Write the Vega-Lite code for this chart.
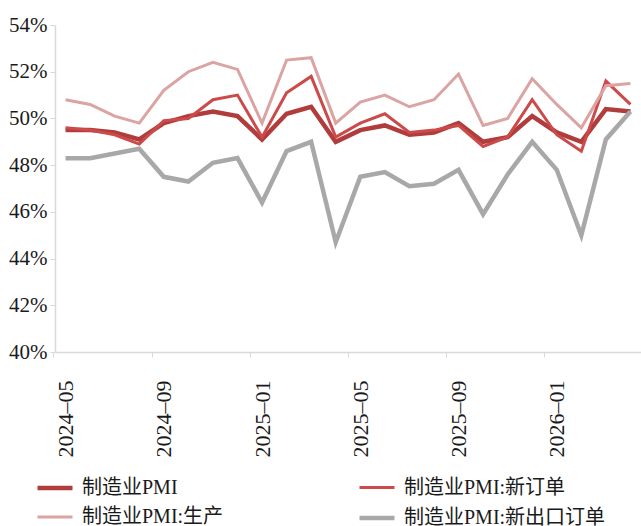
{
  "$schema": "https://vega.github.io/schema/vega-lite/v6.json",
  "width": 586,
  "height": 327,
  "autosize": "none",
  "padding": {"left": 55, "top": 25, "right": 0, "bottom": 174},
  "background": "white",
  "config": {"view": {"stroke": null}, "font": "Liberation Serif"},
  "data": {"values": [
    {"month": "2024-05", "制造业PMI": 49.5, "制造业PMI:新订单": 49.6, "制造业PMI:生产": 50.8, "制造业PMI:新出口订单": 48.3},
    {"month": "2024-06", "制造业PMI": 49.5, "制造业PMI:新订单": 49.5, "制造业PMI:生产": 50.6, "制造业PMI:新出口订单": 48.3},
    {"month": "2024-07", "制造业PMI": 49.4, "制造业PMI:新订单": 49.3, "制造业PMI:生产": 50.1, "制造业PMI:新出口订单": 48.5},
    {"month": "2024-08", "制造业PMI": 49.1, "制造业PMI:新订单": 48.9, "制造业PMI:生产": 49.8, "制造业PMI:新出口订单": 48.7},
    {"month": "2024-09", "制造业PMI": 49.8, "制造业PMI:新订单": 49.9, "制造业PMI:生产": 51.2, "制造业PMI:新出口订单": 47.5},
    {"month": "2024-10", "制造业PMI": 50.1, "制造业PMI:新订单": 50.0, "制造业PMI:生产": 52.0, "制造业PMI:新出口订单": 47.3},
    {"month": "2024-11", "制造业PMI": 50.3, "制造业PMI:新订单": 50.8, "制造业PMI:生产": 52.4, "制造业PMI:新出口订单": 48.1},
    {"month": "2024-12", "制造业PMI": 50.1, "制造业PMI:新订单": 51.0, "制造业PMI:生产": 52.1, "制造业PMI:新出口订单": 48.3},
    {"month": "2025-01", "制造业PMI": 49.1, "制造业PMI:新订单": 49.2, "制造业PMI:生产": 49.8, "制造业PMI:新出口订单": 46.4},
    {"month": "2025-02", "制造业PMI": 50.2, "制造业PMI:新订单": 51.1, "制造业PMI:生产": 52.5, "制造业PMI:新出口订单": 48.6},
    {"month": "2025-03", "制造业PMI": 50.5, "制造业PMI:新订单": 51.8, "制造业PMI:生产": 52.6, "制造业PMI:新出口订单": 49.0},
    {"month": "2025-04", "制造业PMI": 49.0, "制造业PMI:新订单": 49.2, "制造业PMI:生产": 49.8, "制造业PMI:新出口订单": 44.7},
    {"month": "2025-05", "制造业PMI": 49.5, "制造业PMI:新订单": 49.8, "制造业PMI:生产": 50.7, "制造业PMI:新出口订单": 47.5},
    {"month": "2025-06", "制造业PMI": 49.7, "制造业PMI:新订单": 50.2, "制造业PMI:生产": 51.0, "制造业PMI:新出口订单": 47.7},
    {"month": "2025-07", "制造业PMI": 49.3, "制造业PMI:新订单": 49.4, "制造业PMI:生产": 50.5, "制造业PMI:新出口订单": 47.1},
    {"month": "2025-08", "制造业PMI": 49.4, "制造业PMI:新订单": 49.5, "制造业PMI:生产": 50.8, "制造业PMI:新出口订单": 47.2},
    {"month": "2025-09", "制造业PMI": 49.8, "制造业PMI:新订单": 49.7, "制造业PMI:生产": 51.9, "制造业PMI:新出口订单": 47.8},
    {"month": "2025-10", "制造业PMI": 49.0, "制造业PMI:新订单": 48.8, "制造业PMI:生产": 49.7, "制造业PMI:新出口订单": 45.9},
    {"month": "2025-11", "制造业PMI": 49.2, "制造业PMI:新订单": 49.2, "制造业PMI:生产": 50.0, "制造业PMI:新出口订单": 47.6},
    {"month": "2025-12", "制造业PMI": 50.1, "制造业PMI:新订单": 50.8, "制造业PMI:生产": 51.7, "制造业PMI:新出口订单": 49.0},
    {"month": "2026-01", "制造业PMI": 49.4, "制造业PMI:新订单": 49.3, "制造业PMI:生产": 50.6, "制造业PMI:新出口订单": 47.8},
    {"month": "2026-02", "制造业PMI": 49.0, "制造业PMI:新订单": 48.6, "制造业PMI:生产": 49.6, "制造业PMI:新出口订单": 45.0},
    {"month": "2026-03", "制造业PMI": 50.4, "制造业PMI:新订单": 51.6, "制造业PMI:生产": 51.4, "制造业PMI:新出口订单": 49.1},
    {"month": "2026-04", "制造业PMI": 50.3, "制造业PMI:新订单": 50.6, "制造业PMI:生产": 51.5, "制造业PMI:新出口订单": 50.3}
  ]},
  "transform": [
    {"fold": ["制造业PMI", "制造业PMI:新订单", "制造业PMI:生产", "制造业PMI:新出口订单"], "as": ["series", "value"]}
  ],
  "mark": {"type": "line", "strokeJoin": "miter", "strokeCap": "butt"},
  "encoding": {
    "x": {
      "field": "month", "type": "ordinal", "sort": null,
      "scale": {"type": "point", "padding": 0.43},
      "axis": {
        "title": null,
        "values": ["2024-05", "2024-09", "2025-01", "2025-05", "2025-09", "2026-01"],
        "labelExpr": "replace(datum.value, '-', '–')",
        "labelAngle": 270,
        "labelAlign": "right",
        "labelBaseline": "middle",
        "labelFont": "Liberation Serif",
        "labelFontSize": 22,
        "labelColor": "#1a1a1a",
        "labelPadding": 23,
        "tickOffset": -12.28,
        "labelOffset": 12.28,
        "tickSize": 5,
        "tickColor": "#d9d9d9",
        "domainColor": "#d9d9d9",
        "domainWidth": 1.5,
        "grid": false
      }
    },
    "y": {
      "field": "value", "type": "quantitative",
      "scale": {"domain": [40, 54], "nice": false, "zero": false},
      "axis": {
        "title": null,
        "values": [40, 42, 44, 46, 48, 50, 52, 54],
        "labelExpr": "datum.value + '%'",
        "labelFont": "Liberation Serif",
        "labelFontSize": 21,
        "labelColor": "#1a1a1a",
        "labelPadding": 3,
        "tickSize": 5,
        "tickColor": "#d9d9d9",
        "domainColor": "#d9d9d9",
        "domainWidth": 1.5,
        "grid": false
      }
    },
    "color": {
      "field": "series", "type": "nominal",
      "scale": {
        "domain": ["制造业PMI", "制造业PMI:新订单", "制造业PMI:生产", "制造业PMI:新出口订单"],
        "range": ["#b13c3c", "#cc4a4a", "#dca3a3", "#a8a8a8"]
      },
      "legend": {
        "title": null,
        "orient": "none",
        "direction": "horizontal",
        "legendX": -20,
        "legendY": 443,
        "columns": 2,
        "columnPadding": 126,
        "rowPadding": 0,
        "symbolType": "stroke",
        "symbolSize": 1225,
        "labelFont": "Liberation Serif, Noto Sans CJK SC",
        "labelFontSize": 20,
        "labelLimit": 400,
        "labelColor": "#1a1a1a",
        "labelOffset": 7
      }
    },
    "strokeWidth": {
      "field": "series", "type": "nominal",
      "scale": {
        "type": "ordinal",
        "domain": ["制造业PMI", "制造业PMI:新订单", "制造业PMI:生产", "制造业PMI:新出口订单"],
        "range": [4.5, 3, 3, 4.5]
      },
      "legend": {
        "title": null,
        "orient": "none",
        "direction": "horizontal",
        "legendX": -20,
        "legendY": 443,
        "columns": 2,
        "columnPadding": 126,
        "rowPadding": 0,
        "symbolType": "stroke",
        "symbolSize": 1225,
        "labelFont": "Liberation Serif, Noto Sans CJK SC",
        "labelFontSize": 20,
        "labelLimit": 400,
        "labelColor": "#1a1a1a",
        "labelOffset": 7
      }
    }
  }
}
